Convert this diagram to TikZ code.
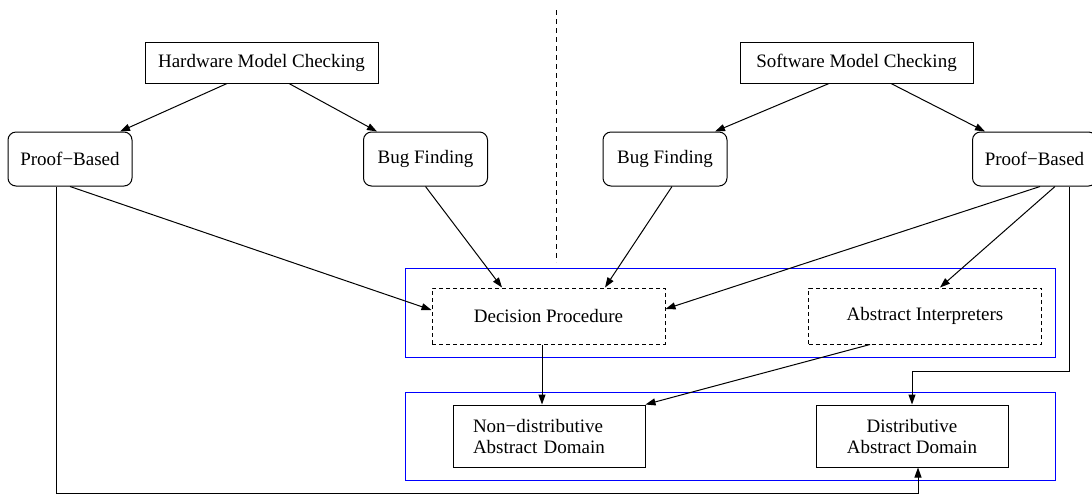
\documentclass[tikz,border=0pt]{standalone}
\usepackage{fontspec}
\setmainfont{Liberation Serif}
\usetikzlibrary{arrows.meta}
\usetikzlibrary{calc}

\begin{document}
\begin{tikzpicture}[x=0.5pt,y=-0.5pt,line width=0.5pt,
		every node/.style={font=\fontsize{9.5}{10.5}\selectfont,inner sep=0pt,align=center},
		plainbox/.style={draw,rectangle},
		roundbox/.style={draw,rectangle,rounded corners=4pt,minimum width=62pt,minimum height=27pt},
		dashbox/.style={draw,rectangle,dash pattern=on 2pt off 1.5pt,minimum width=116.5pt,minimum height=28pt},
		groupbox/.style={draw=groupblue,rectangle,minimum width=325pt},
		arr/.style={-{Triangle[length=5pt,width=3.5pt]}}]
		\definecolor{groupblue}{RGB}{0,0,255}

		\useasboundingbox (0,0) rectangle (1092,494);

		\node[groupbox,minimum height=44.5pt] (upper) at (730,312.5) {};
		\node[groupbox,minimum height=44pt] (lower) at (730,436) {};

		\node[plainbox,minimum width=116.5pt,minimum height=20.5pt] (hw) at (261.5,62.5) {Hardware Model Checking};
		\node[plainbox,minimum width=116.5pt,minimum height=20.5pt] (sw) at (856.5,62.5) {Software Model Checking};

		\node[roundbox] (hwproof) at (70,159) {Proof−Based};
		\node[roundbox] (hwbug) at (425.5,159) {Bug Finding};
		\node[roundbox] (swbug) at (665,159) {Bug Finding};
		\node[roundbox] (swproof) at (1034.5,159) {Proof−Based};

		\node[dashbox] (decproc) at (548.5,316) {Decision Procedure};
		\node[dashbox] (absint) at (925,316) {Abstract Interpreters};

		\node[plainbox,text width=76pt,inner xsep=10pt,align=left,minimum height=31pt] (nondist) at (549,436) {Non−distributive\\Abstract Domain};
		\node[plainbox,minimum width=96pt,minimum height=31pt] (dist) at (912,436) {Distributive\\Abstract Domain};

		\coordinate (septop) at (556,10);
		\coordinate (sepbot) at (556,262);
		\draw[dash pattern=on 2.5pt off 2pt] (septop) -- (sepbot);

		\draw[arr] ($(hw.south)+(-34.5,0)$) -- ($(hwproof.north)+(50,0)$);
		\draw[arr] ($(hw.south)+(27.5,0)$) -- ($(hwbug.north)+(-48.5,0)$);
		\draw[arr] ($(sw.south)+(-27.5,0)$) -- ($(swbug.north)+(50,0)$);
		\draw[arr] ($(sw.south)+(34.5,0)$) -- ($(swproof.north)+(-49.5,0)$);

		\draw[arr] (hwproof.south) -- ($(decproc.west)+(0,-6)$);
		\draw[arr] (hwbug.south) -- ($(decproc.north)+(-46.5,0)$);
		\draw[arr] ($(swbug.south)+(7,0)$) -- ($(decproc.north)+(56.5,0)$);
		\draw[arr] ($(swproof.south)+(5.5,0)$) -- ($(decproc.east)+(0,-7)$);
		\draw[arr] ($(swproof.south)+(20.5,0)$) -- ($(absint.north)+(15,0)$);
		\draw[arr] ($(swproof.south)+(34.5,0)$) -- ($(swproof.south)+(34.5,185)$) -| (dist.north);

		\draw[arr] ($(decproc.south)+(-6.5,0)$) -- ($(nondist.north)+(-7,0)$);
		\draw[arr] ($(absint.south)+(-55,0)$) -- (nondist.north east);

		\draw[arr] ($(hwproof.south)+(-14,0)$) -- ($(hwproof.south)+(-14,307)$) -| ($(dist.south)+(6,0)$);

\end{tikzpicture}
\end{document}
